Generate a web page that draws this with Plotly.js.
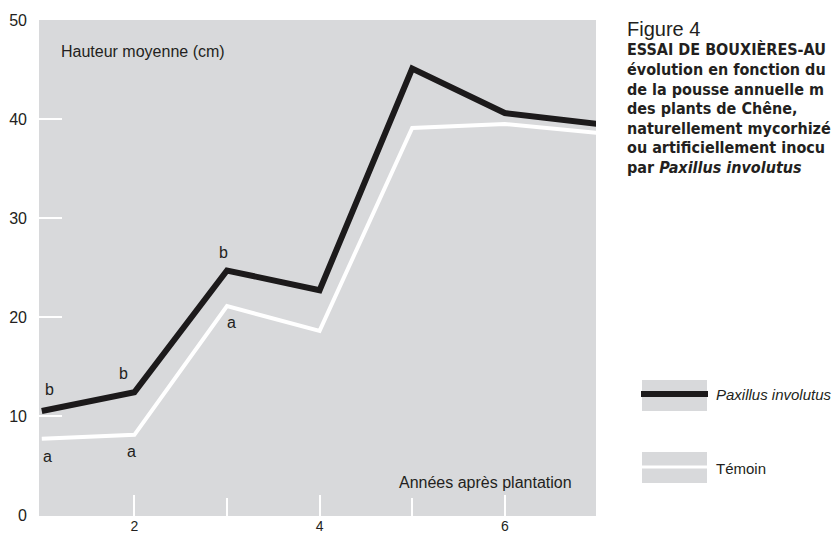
<!DOCTYPE html>
<html>
<head>
<meta charset="utf-8">
<script src="https://cdn.plot.ly/plotly-3.0.1.min.js"></script>
<style>html,body{margin:0;padding:0;background:#fff;}#chart{width:838px;height:534px;}</style>
</head>
<body>
<div id="chart"></div>
<script>
// ---- data ----
var years = [1, 2, 3, 4, 5, 6, 7];
var paxillus = [10.5, 12.4, 24.7, 22.7, 45.1, 40.6, 39.5];
var temoin = [7.7, 8.1, 21.1, 18.6, 39.1, 39.5, 38.6];
var seriesNames = ['Paxillus involutus', 'Témoin'];
var xTickVals = [2, 4, 6];
var xTickText = ['2', '4', '6'];
var yTickVals = [0, 10, 20, 30, 40, 50];
var yTickText = ['0', '10', '20', '30', '40', '50'];
var sigLetters = ['b', 'b', 'b', 'a', 'a', 'a'];
var sigYears = [1, 2, 3, 1, 2, 3];
var yLabel = 'Hauteur moyenne (cm)';
var xLabel = 'Années après plantation';
var figTitle = 'Figure 4';
// caption as visible in the reference (cut at the right edge)
var figCaption = ['ESSAI DE BOUXIÈRES-AU', 'évolution en fonction du', 'de la pousse annuelle m', 'des plants de Chêne,', 'naturellement mycorhizé', 'ou artificiellement inocu', 'par <i>Paxillus involutus</i>'];

var txt = '#231f20';
var gray = '#d8d9db';
var sans = 'Liberation Sans, Arial, sans-serif';

var traces = [
  {x: years, y: temoin, name: seriesNames[1], type: 'scatter', mode: 'lines',
   line: {color: '#ffffff', width: 4}, showlegend: false, hoverinfo: 'skip'},
  {x: years, y: paxillus, name: seriesNames[0], type: 'scatter', mode: 'lines',
   line: {color: '#1c1a1b', width: 6}, showlegend: false, hoverinfo: 'skip'}
];

// letter offsets (positioning only)
var letterOffsets = [[0.08, 2.2], [-0.12, 1.9], [-0.04, 1.8], [0.06, -1.8], [-0.03, -1.7], [0.05, -1.7]];
var annotations = [];
for (var i = 0; i < sigLetters.length; i++) {
  var idx = years.indexOf(sigYears[i]);
  var base = sigLetters[i] === 'b' ? paxillus[idx] : temoin[idx];
  annotations.push({x: sigYears[i] + letterOffsets[i][0], y: base + letterOffsets[i][1], xref: 'x', yref: 'y',
    text: sigLetters[i], showarrow: false, font: {size: 16, color: txt, family: sans}});
}

// convert pixel positions to paper coordinates
var L = 39, R = 596, T = 20, B = 516;
function px(x) { return (x - L) / (R - L); }
function py(y) { return (B - y) / (B - T); }

annotations.push({x: px(59), y: py(51), xref: 'paper', yref: 'paper', text: yLabel, showarrow: false,
  font: {size: 16, color: txt, family: sans}, xanchor: 'left', yanchor: 'middle'});
annotations.push({x: px(574), y: py(482), xref: 'paper', yref: 'paper', text: xLabel, showarrow: false,
  font: {size: 16, color: txt, family: sans}, xanchor: 'right', yanchor: 'middle'});

annotations.push({x: px(625), y: py(29), xref: 'paper', yref: 'paper', text: figTitle, showarrow: false,
  xanchor: 'left', yanchor: 'middle', font: {size: 20, color: txt, family: sans}});
for (var k = 0; k < figCaption.length; k++) {
  annotations.push({x: px(625), y: py(50 + 19.5 * k), xref: 'paper', yref: 'paper', text: '<b>' + figCaption[k] + '</b>',
    showarrow: false, xanchor: 'left', yanchor: 'middle', align: 'left',
    font: {size: 16, color: txt, family: 'Liberation Sans Narrow, DejaVu Sans Condensed, Arial Narrow, sans-serif'}});
}

// legend (drawn manually)
var shapes = [
  {type: 'rect', xref: 'paper', yref: 'paper', x0: px(642), x1: px(707), y0: py(380), y1: py(411), fillcolor: gray, line: {width: 0}},
  {type: 'line', xref: 'paper', yref: 'paper', x0: px(641), x1: px(708), y0: py(394), y1: py(394), line: {color: '#1c1a1b', width: 6}},
  {type: 'rect', xref: 'paper', yref: 'paper', x0: px(642), x1: px(707), y0: py(452), y1: py(483), fillcolor: gray, line: {width: 0}},
  {type: 'line', xref: 'paper', yref: 'paper', x0: px(641), x1: px(708), y0: py(467), y1: py(467), line: {color: '#ffffff', width: 3}}
];
annotations.push({x: px(714), y: py(394), xref: 'paper', yref: 'paper', text: '<i>' + seriesNames[0] + '</i>', showarrow: false,
  xanchor: 'left', yanchor: 'middle', font: {size: 15, color: txt, family: sans}});
annotations.push({x: px(714), y: py(468), xref: 'paper', yref: 'paper', text: seriesNames[1], showarrow: false,
  xanchor: 'left', yanchor: 'middle', font: {size: 15, color: txt, family: sans}});

var layout = {
  width: 838, height: 534,
  margin: {l: L, r: 838 - R, t: T, b: 534 - B, pad: 0},
  paper_bgcolor: '#ffffff',
  plot_bgcolor: gray,
  font: {family: sans, size: 15, color: txt},
  xaxis: {range: [0.97, 6.985], tickmode: 'array', tickvals: xTickVals, ticktext: xTickText,
    ticks: 'inside', ticklen: 21, tickwidth: 2, tickcolor: '#ffffff', showgrid: false, zeroline: false,
    showline: false, fixedrange: true,
    minor: {tickmode: 'array', tickvals: [3, 5], ticks: 'inside', ticklen: 18, tickwidth: 2, tickcolor: '#ffffff', showgrid: false},
    tickfont: {size: 14, color: txt}},
  yaxis: {range: [-0.1, 50], tickmode: 'array', tickvals: yTickVals, ticktext: yTickText,
    ticks: 'inside', ticklen: 23, tickwidth: 2, tickcolor: '#ffffff', showgrid: false, zeroline: false,
    showline: false, fixedrange: true, ticklabelstandoff: 11, tickfont: {size: 16, color: txt}},
  annotations: annotations,
  shapes: shapes,
  showlegend: false
};

Plotly.newPlot('chart', traces, layout, {displayModeBar: false, staticPlot: true});
</script>
</body>
</html>
